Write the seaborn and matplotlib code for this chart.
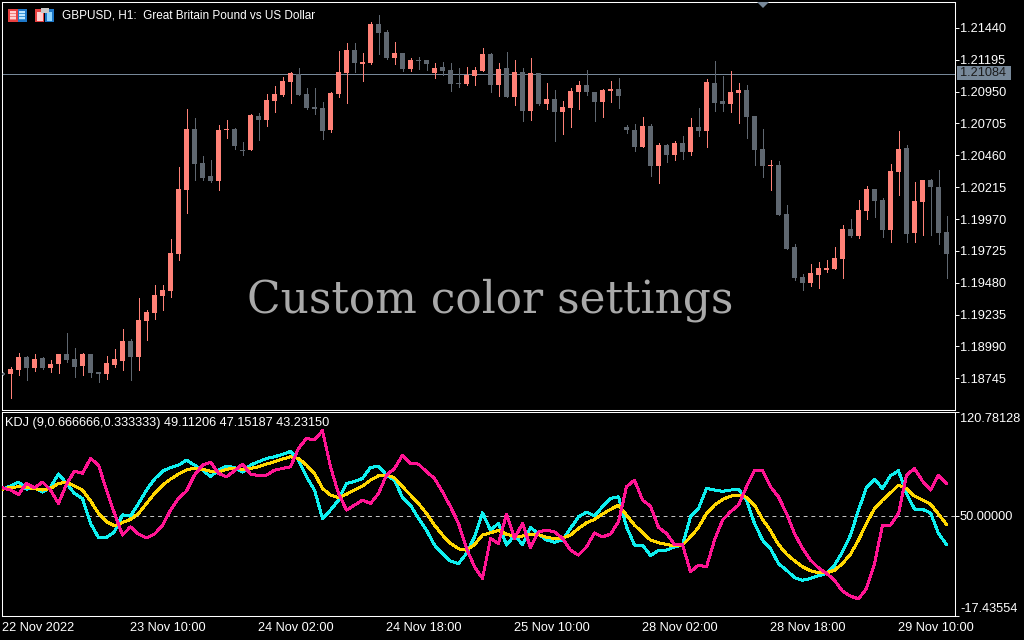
import numpy as np
import pandas as pd
import matplotlib
matplotlib.use("Agg")
import matplotlib.pyplot as plt
from matplotlib.patches import Rectangle, Polygon
import seaborn as sns

# ---- price data (GBPUSD H1, in 1e-5 units) ----
high = [118790,118832,118940,118917,118932,118909,118886,118932,119093,118978,118940,118932,118793,118917,118970,119124,119047,119362,119270,119462,119462,119816,120370,120816,120747,120455,120424,120693,120731,120670,120562,120777,120785,120931,120993,121062,121100,121131,120977,120977,120870,120947,121262,
        121323,121323,121246,121485,121539,121423,121331,121246,121208,121216,121193,121170,121177,121170,121131,121139,121139,121285,121246,121170,121254,121193,121131,121208,121093,121016,120962,120877,120977,121031,121116,120947,120970,121031,121054,120693,120701,120754,120701,120554,
        120546,120569,120608,120746,120823,121046,121185,121069,121108,121015,121000,120762,120662,120423,120416,120077,119777,119547,119624,119639,119654,119754,119924,119970,120116,120223,120200,120131,120393,120646,120539,120254,120270,120277,120346,119993]
low = [118770,118594,118770,118732,118801,118817,118793,118786,118870,118755,118770,118755,118717,118740,118832,118809,118732,118809,119040,119201,119270,119370,119655,120019,120270,120270,120255,120193,120593,120508,120462,120501,120578,120685,120793,120916,120862,120924,120816,120777,120585,120639,120908,
       120862,121100,121031,121162,121239,121200,121162,121108,121108,121123,121116,121054,121077,120954,120985,121000,121000,121108,120947,120916,120908,120847,120724,120731,120847,120816,120570,120624,120677,120816,120924,120724,120754,120870,120824,120631,120493,120524,120301,120247,
       120408,120423,120431,120462,120608,120523,120800,120800,120792,120708,120592,120385,120293,120193,120000,119739,119501,119424,119455,119439,119562,119585,119516,119831,119824,119970,119985,119831,119793,120154,119793,119793,119847,119847,119777,119516]
open_ = [118786,118778,118809,118909,118824,118901,118824,118855,118932,118893,118840,118932,118793,118778,118847,118878,119032,118909,119186,119247,119378,119416,119701,120193,120662,120401,120301,120262,120654,120662,120501,120501,120762,120731,120877,120924,121024,121085,120931,120831,120824,120654,120931,
         121093,121270,121162,121170,121469,121408,121208,121246,121123,121193,121193,121093,121139,121116,121016,121008,121070,121108,121239,121000,121131,120908,121100,120801,121093,120854,120893,120793,120824,120947,121000,120947,120870,120954,120970,120677,120654,120524,120685,120378,
         120539,120462,120554,120485,120677,120646,121015,120877,120854,120938,120962,120762,120508,120377,120385,120008,119754,119524,119478,119539,119578,119585,119662,119893,119839,120031,120200,120116,119885,120331,120516,119862,120100,120270,120216,119870]
close = [118770,118817,118909,118824,118893,118824,118855,118932,118886,118832,118932,118786,118778,118863,118893,119032,118909,119193,119255,119386,119424,119708,120201,120662,120393,120285,120262,120654,120662,120531,120493,120770,120731,120885,120931,121031,121093,120924,120824,120816,120647,120939,121100,
         121270,121170,121177,121469,121400,121208,121246,121123,121193,121185,121162,121131,121108,121008,121008,121077,121116,121239,121000,121123,120908,121100,120801,121093,120854,120893,120793,120831,120954,121000,120947,120870,120962,120970,120916,120654,120524,120685,120378,120539,
         120462,120554,120485,120677,120646,121023,120862,120854,120946,120962,120754,120500,120377,120385,120000,119739,119516,119478,119554,119593,119593,119670,119893,119839,120039,120200,120108,119885,120339,120508,119854,120108,120270,120216,119862,119701]

# ---- indicator data ----
k_line = [68.5,70.6,73.3,68.5,69.2,66.5,69.9,78.9,72.4,65.6,62.2,45.3,35.8,35.8,39.6,51.1,50.2,58.8,67.9,75.3,80.7,83.2,84.8,88.2,84.8,81.4,77.1,81.4,84.1,83.2,80.1,84.8,87.1,89.3,90.5,92.0,94.1,88.2,76.9,67.9,48.7,54.3,61.1,
          72.4,73.7,75.8,83.2,84.1,78.0,74.6,62.9,57.7,48.7,40.7,30.6,24.9,19.7,18.1,24.9,36.2,52.5,40.7,45.3,30.6,37.4,31.0,42.6,38.0,34.0,32.6,34.0,41.9,49.8,52.9,50.5,56.6,62.2,63.3,43.0,30.6,30.6,23.6,27.0,
          27.2,29.4,30.6,49.8,55.4,69.0,67.9,67.0,67.9,68.5,61.1,45.3,34.0,28.3,18.1,13.6,8.6,6.8,8.0,9.8,11.4,17.0,26.1,37.4,54.3,69.7,75.3,69.0,77.6,81.0,65.6,55.0,54.8,52.5,38.5,31.0]
d_line = [68.5,69.7,70.1,69.7,68.8,67.9,69.0,72.4,73.1,70.6,67.9,60.6,52.0,46.4,43.7,45.9,48.0,52.0,58.8,65.6,71.2,75.3,78.7,81.4,82.8,81.9,80.7,80.1,81.9,82.8,81.9,82.5,83.7,85.5,87.1,88.9,90.5,89.3,84.8,79.2,69.0,64.5,62.7,
          65.1,67.9,70.6,74.6,77.6,78.0,76.2,70.1,64.5,58.8,52.0,44.1,37.4,31.7,28.1,27.2,31.0,37.4,38.9,40.7,38.0,36.7,36.7,38.0,37.6,35.8,35.1,35.3,37.4,41.9,45.7,48.0,51.6,54.8,57.7,50.9,44.1,39.2,34.0,32.2,
          31.0,30.1,30.6,36.2,42.6,52.0,57.7,61.5,63.8,64.5,62.9,57.7,48.2,40.3,31.0,24.5,20.0,15.9,13.2,11.8,11.8,13.6,18.1,24.5,34.0,45.3,55.4,61.1,66.0,71.2,69.0,63.8,61.1,58.4,51.6,44.6]
j_line = [69.4,67.9,64.9,72.4,69.4,73.3,67.9,58.8,71.9,80.7,79.2,89.3,84.8,67.9,52.0,37.4,43.0,38.0,35.5,38.0,44.1,54.3,62.2,67.2,78.0,84.8,86.8,79.2,76.9,81.0,85.5,78.7,77.8,78.0,81.4,82.5,83.7,96.1,102.9,101.8,108.1,83.7,65.6,
          54.3,57.7,61.1,58.8,65.6,78.0,82.5,91.6,85.9,85.5,80.3,75.8,66.7,56.6,45.3,28.3,15.9,8.0,35.1,31.7,51.6,35.1,45.3,29.0,39.6,40.7,39.6,35.1,27.2,23.8,29.4,38.9,36.2,38.0,46.4,70.1,74.6,61.1,57.0,42.6,
          38.5,31.0,31.0,12.5,17.0,15.9,34.0,47.5,53.2,57.7,70.1,81.4,81.4,70.1,63.3,52.0,38.5,28.3,20.4,15.2,11.4,6.8,-0.6,-4.0,-5.8,1.2,18.1,44.1,44.1,52.0,78.0,82.5,74.0,67.9,78.0,72.4]

price_ticks = [1.21440,1.21195,1.20950,1.20705,1.20460,1.20215,1.19970,1.19725,1.19480,1.19235,1.18990,1.18745]
kdj_ticks = [120.78128,50.0,-17.43554]
kdj_tick_labels = ["120.78128","50.00000","-17.43554"]
time_positions = [0,16,32,48,64,80,96,112]
time_labels = ["22 Nov 2022","23 Nov 10:00","24 Nov 02:00","24 Nov 18:00","25 Nov 10:00","28 Nov 02:00","28 Nov 18:00","29 Nov 10:00"]
last_price = 1.21084

UP, DOWN = "#FF8177", "#5F6770"
STEEL = "#778899"
W, H = 1024, 640
UI_FONT = "Liberation Sans"
FS = 9.2

sns.set_theme(style="dark", rc={"axes.facecolor": "black", "figure.facecolor": "black",
                                "axes.edgecolor": "white", "xtick.color": "white", "ytick.color": "white",
                                "text.color": "white", "axes.grid": False})
plt.rcParams["font.family"] = [UI_FONT, "DejaVu Sans"]

fig = plt.figure(figsize=(W/100, H/100), dpi=100)
def box(l, t, r, b):
    return [l/W, 1-b/H, (r-l)/W, (b-t)/H]
ax = fig.add_axes(box(2, 2, 955, 410))
ax2 = fig.add_axes(box(2, 412, 955, 616))

xlim = ((2-2.5)/8, (955-2.5)/8)
df = pd.DataFrame({"bar": np.arange(len(open_)), "open": open_, "high": high, "low": low, "close": close})
for col in ["open", "high", "low", "close"]:
    df[col] = df[col] / 1e5
df["color"] = np.where(df["close"] >= df["open"], UP, DOWN)

ax.vlines(df["bar"], df["low"], df["high"], colors=df["color"], linewidth=0.7, antialiased=False, zorder=2)
ax.bar(df["bar"], (df["close"]-df["open"]).abs().clip(lower=0.00008), bottom=df[["open", "close"]].min(axis=1),
       width=0.66, color=df["color"], linewidth=0, antialiased=False, zorder=3)
ax.axhline(last_price, color=STEEL, lw=0.65, zorder=1, antialiased=False)
ax.set_xlim(*xlim)
ax.set_ylim(1.18501, 1.21639)
ax.set_xticks([])
ax.yaxis.tick_right()
ax.set_yticks(price_ticks)
ax.set_yticklabels([f"{t:.5f}" for t in price_ticks], fontsize=FS, fontfamily=UI_FONT)
ax.tick_params(axis="y", length=3, width=0.7, pad=0.5, color="white", labelcolor="white")
ax.set_xlabel(""); ax.set_ylabel("")

# indicator
kdj = pd.DataFrame({"bar": df["bar"], "K": k_line, "D": d_line, "J": j_line}).melt("bar", var_name="line", value_name="value")
sns.lineplot(data=kdj, x="bar", y="value", hue="line", hue_order=["K", "D", "J"],
             palette={"K": "#0FF0F0", "D": "#FFD700", "J": "#FF1493"}, estimator=None, sort=False,
             legend=False, linewidth=1.4, ax=ax2, antialiased=False, zorder=3)
ax2.axhline(50, color="#C8C8C8", lw=0.7, ls=(0, (4, 4)), zorder=2)
ax2.set_xlim(*xlim)
ax2.set_ylim(-17.43554, 120.78128)
ax2.yaxis.tick_right()
ax2.set_yticks(kdj_ticks)
ax2.set_yticklabels([])
ax2.tick_params(axis="y", length=3, width=0.7, color="white")
ax2.set_xticks(time_positions)
ax2.set_xticklabels(time_labels, fontsize=FS, fontfamily=UI_FONT, ha="left")
ax2.tick_params(axis="x", length=4, width=0.7, pad=0, color="white", labelcolor="white")
ax2.set_xlabel(""); ax2.set_ylabel("")

for a in (ax, ax2):
    for s in ("top", "left", "right", "bottom"):
        a.spines[s].set_visible(True)
        a.spines[s].set_color("white")
        a.spines[s].set_linewidth(0.75)

def px(x, y):
    return x/W, 1-y/H

fig.text(*px(62, 16), "GBPUSD, H1:  Great Britain Pound vs US Dollar", fontsize=8.5, color="white", va="center", ha="left", family=UI_FONT)
fig.text(*px(5, 423), "KDJ (9,0.666666,0.333333) 49.11206 47.15187 43.23150", fontsize=FS, color="white", va="center", ha="left", family=UI_FONT)
fig.text(*px(490, 300), "Custom color settings", fontsize=31.6, color="#A9A9A9", va="center", ha="center", family="DejaVu Serif")
for lab, ypx in zip(kdj_tick_labels, [419, 516.5, 609]):
    fig.text(*px(960, ypx), lab, fontsize=FS, color="white", va="center", ha="left", family=UI_FONT)

# current price tag
fig.add_artist(Rectangle(px(957, 80), 54/W, 14/H, transform=fig.transFigure, facecolor=STEEL, edgecolor="none"))
fig.text(*px(960, 73.5), "1.21084", fontsize=FS, color="#1A1A1A", va="center", ha="left", family=UI_FONT)

# top marker
fig.add_artist(Polygon([px(757, 2), px(769, 2), px(763, 8)], transform=fig.transFigure, facecolor=STEEL, edgecolor="none"))

# toolbar icons
def rect(l, t, w, h, c):
    fig.add_artist(Rectangle(px(l, t+h), w/W, h/H, transform=fig.transFigure, facecolor=c, edgecolor="none", antialiased=False))
rect(8, 9, 10, 13, "#E84040"); rect(18, 9, 9, 13, "#1E78C8")
rect(10, 11, 6, 9, "#FFD0D0"); rect(19, 11, 6, 9, "#BDE6FF")
for yy in (13, 16, 19):
    rect(10, yy, 6, 1, "#F08080"); rect(19, yy, 6, 1, "#3C96D8")
rect(35, 9, 9, 13, "#E84040"); rect(45, 9, 9, 13, "#1E78C8")
rect(37, 12, 6, 9, "#FFD0D0"); rect(47, 12, 5, 9, "#8FD6FF")
rect(41, 8, 8, 5, "#C8C8C8")

fig.savefig("out.png", dpi=100, facecolor="black")
